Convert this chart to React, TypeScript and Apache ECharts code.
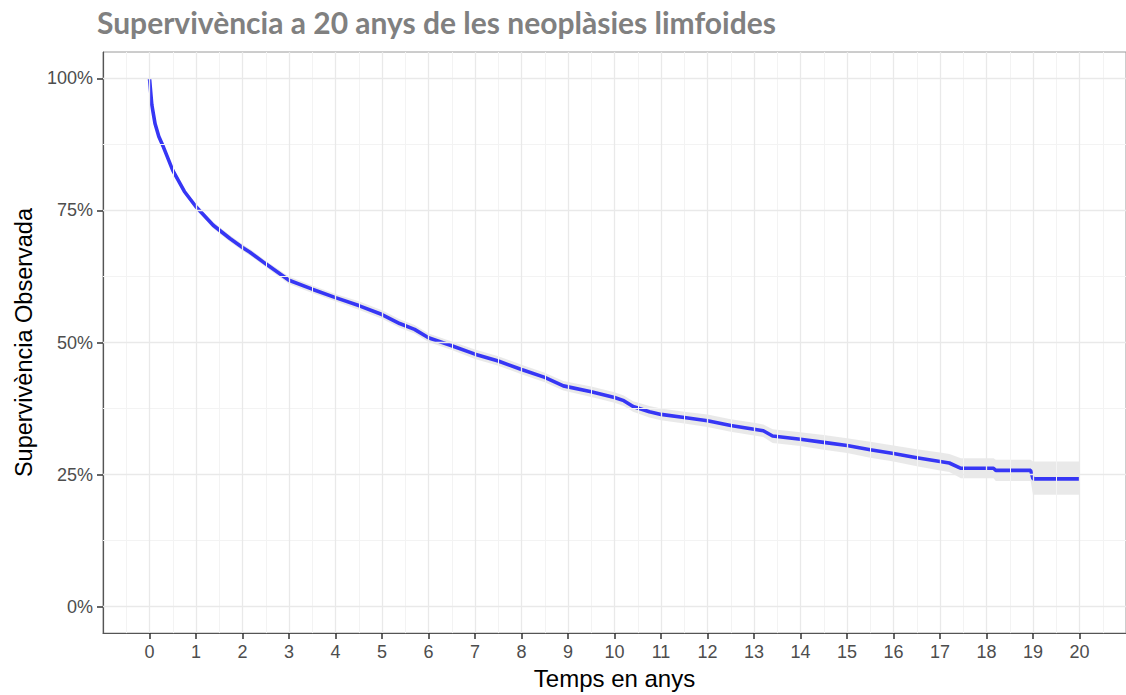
import React, { useEffect, useRef } from "react";
import * as echarts from "echarts";

// Tick positions
const years = [0, 1, 2, 3, 4, 5, 6, 7, 8, 9, 10, 11, 12, 13, 14, 15, 16, 17, 18, 19, 20];
const halfYears = [-0.5, 0.5, 1.5, 2.5, 3.5, 4.5, 5.5, 6.5, 7.5, 8.5, 9.5, 10.5, 11.5, 12.5, 13.5, 14.5, 15.5, 16.5, 17.5, 18.5, 19.5, 20.5];
const pctTicks = [0, 25, 50, 75, 100];
const pctMinor = [12.5, 37.5, 62.5, 87.5];

// Kaplan-Meier estimate (years, % surviving) with 95% confidence band
const times = [
  0, 0.05, 0.12, 0.2, 0.3, 0.5, 0.75, 1.0, 1.37, 1.73, 2.0, 2.16, 2.5, 3.0, 3.5, 4.0, 4.5, 5.0,
  5.38, 5.7, 6.0, 6.5, 7.0, 7.5, 8.0, 8.5, 8.9, 9.5, 10.0, 10.2, 10.4, 10.75, 11.0, 11.5, 12.0,
  12.5, 13.0, 13.2, 13.4, 14.0, 14.5, 15.0, 15.5, 16.0, 16.5, 17.0, 17.2, 17.45, 18.15, 18.2,
  18.95, 19.0, 20.0,
];
const survival = [
  100, 95, 91.4, 89, 87, 82.6, 78.6, 75.7, 72.2, 69.7, 68.0, 67.1, 64.9, 61.8, 60.1, 58.5, 57.0, 55.3,
  53.6, 52.5, 50.9, 49.4, 47.8, 46.5, 44.9, 43.4, 41.8, 40.7, 39.6, 39.0, 37.9, 36.9, 36.4, 35.8, 35.2,
  34.3, 33.6, 33.3, 32.3, 31.7, 31.1, 30.5, 29.7, 29.0, 28.2, 27.5, 27.2, 26.2, 26.2, 25.8,
  25.8, 24.2, 24.2,
];
const upperCI = [
  100, 95.4, 91.8, 89.4, 87.5, 83.1, 79.1, 76.2, 72.8, 70.3, 68.6, 67.7, 65.5, 62.5, 60.8, 59.2, 57.8, 56.1,
  54.4, 53.3, 51.7, 50.2, 48.7, 47.4, 45.8, 44.3, 42.7, 41.7, 40.6, 40.0, 38.9, 38.0, 37.5, 36.9, 36.4,
  35.5, 34.8, 34.5, 33.6, 33.0, 32.5, 31.9, 31.2, 30.5, 29.8, 29.2, 28.9, 28.1, 28.1, 27.8,
  27.8, 27.5, 27.5,
];
const lowerCI = [
  100, 94.6, 91.0, 88.6, 86.5, 82.1, 78.1, 75.2, 71.6, 69.1, 67.4, 66.5, 64.3, 61.1, 59.4, 57.8, 56.2, 54.5,
  52.8, 51.7, 50.1, 48.6, 46.9, 45.6, 44.0, 42.5, 40.9, 39.7, 38.6, 38.0, 36.9, 35.8, 35.3, 34.7, 34.0,
  33.1, 32.4, 32.1, 31.0, 30.4, 29.7, 29.1, 28.2, 27.5, 26.6, 25.8, 25.5, 24.3, 24.3, 23.8,
  23.8, 21.2, 21.2,
];

const FONT = "Liberation Sans, Arial, sans-serif";
const MAJOR_GRID = "#e9e9e9";
const MINOR_GRID = "#f3f3f3";

export default function App() {
  const ref = useRef<HTMLDivElement>(null);

  useEffect(() => {
    if (!ref.current) return;
    const chart = echarts.init(ref.current, undefined, { renderer: "svg" });

    const gridLines = [
      ...halfYears.map((v) => ({ xAxis: v, lineStyle: { color: MINOR_GRID, width: 1 } })),
      ...pctMinor.map((v) => ({ yAxis: v, lineStyle: { color: MINOR_GRID, width: 1 } })),
      ...years.map((v) => ({ xAxis: v, lineStyle: { color: MAJOR_GRID, width: 1.3 } })),
      ...pctTicks.map((v) => ({ yAxis: v, lineStyle: { color: MAJOR_GRID, width: 1.3 } })),
    ];

    const linePoints = times.map((t, i) => [t, survival[i]]);

    chart.setOption({
      animation: false,
      title: {
        text: "Supervivència a 20 anys de les neoplàsies limfoides",
        left: 92,
        top: 2,
        textStyle: {
          fontFamily: "Lato, sans-serif",
          fontWeight: "bold",
          fontSize: 30,
          color: "#808080",
        },
      },
      grid: {
        left: 103,
        top: 52,
        width: 1024,
        height: 582,
        show: true,
        borderColor: "#9a9a9a",
        borderWidth: 1,
        backgroundColor: "transparent",
      },
      xAxis: {
        type: "value",
        min: -1,
        max: 21,
        interval: 1,
        name: "Temps en anys",
        nameLocation: "middle",
        nameGap: 30,
        nameTextStyle: { fontFamily: FONT, fontSize: 24, color: "#000" },
        axisLine: { show: true, onZero: false, lineStyle: { color: "#555", width: 1.2 } },
        axisTick: {
          show: true,
          customValues: years,
          length: 6,
          lineStyle: { color: "#333", width: 1.5 },
        },
        axisLabel: {
          customValues: years,
          color: "#4d4d4d",
          fontSize: 18,
          fontFamily: FONT,
          margin: 10,
        },
        splitLine: { show: false },
      },
      yAxis: {
        type: "value",
        min: -5,
        max: 105,
        name: "Supervivència Observada",
        nameLocation: "middle",
        nameGap: 67,
        nameTextStyle: { fontFamily: FONT, fontSize: 23.5, color: "#000" },
        axisLine: { show: true, onZero: false, lineStyle: { color: "#555", width: 1.2 } },
        axisTick: {
          show: true,
          customValues: pctTicks,
          length: 6,
          lineStyle: { color: "#333", width: 1.5 },
        },
        axisLabel: {
          customValues: pctTicks,
          color: "#4d4d4d",
          fontSize: 18,
          fontFamily: FONT,
          margin: 10,
          formatter: (v: number) => `${v}%`,
        },
        splitLine: { show: false },
      },
      series: [
        {
          // panel grid lines
          type: "line",
          data: [],
          z: 1,
          silent: true,
          markLine: {
            silent: true,
            symbol: ["none", "none"],
            label: { show: false },
            lineStyle: { type: "solid" },
            data: gridLines,
          },
        },
        {
          // confidence band
          type: "custom",
          z: 2,
          silent: true,
          data: [[0, 0]],
          encode: { x: 0, y: 1 },
          renderItem: (_params: any, api: any) => {
            const upper = times.map((t, i) => api.coord([t, upperCI[i]]));
            const lower = times.map((t, i) => api.coord([t, lowerCI[i]])).reverse();
            return {
              type: "polygon",
              shape: { points: [...upper, ...lower] },
              style: { fill: "rgba(120,120,120,0.16)" },
            };
          },
        },
        {
          type: "line",
          z: 3,
          data: linePoints,
          showSymbol: false,
          lineStyle: { color: "#3636f5", width: 3.6 },
        },
      ],
    });

    return () => chart.dispose();
  }, []);

  return (
    <div
      ref={ref}
      style={{ position: "absolute", left: 0, top: 0, width: 1126, height: 695, background: "#fff" }}
    />
  );
}
